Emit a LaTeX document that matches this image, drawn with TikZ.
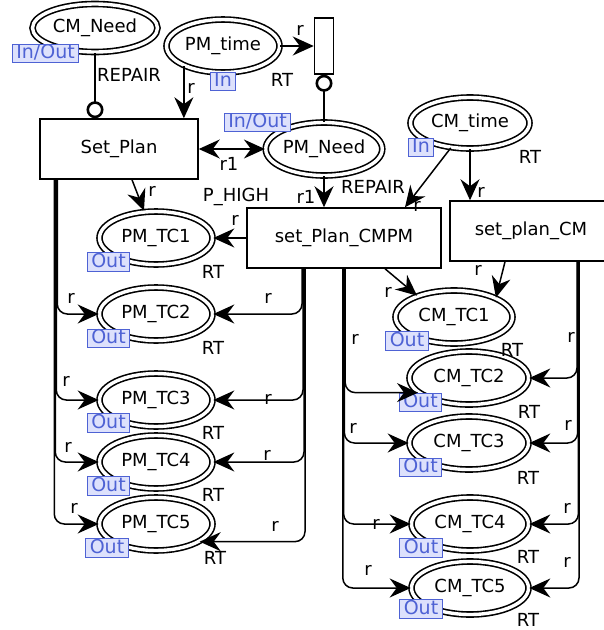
\documentclass[tikz,border=0pt]{standalone}
\usepackage{fontspec}
\setmainfont{DejaVu Sans}
\usetikzlibrary{arrows.meta,shapes.geometric}
\definecolor{tagblue}{RGB}{78,98,212}
\definecolor{tagfill}{RGB}{221,225,252}
\tikzset{
  place/.style={ellipse, draw, double, double distance=3.4pt, line width=1.6pt,
    inner sep=0pt, minimum width=113pt, minimum height=53pt},
  pntrans/.style={rectangle, draw, line width=1.5pt, inner sep=0pt},
  porttag/.style={draw=tagblue, fill=tagfill, text=tagblue, line width=1pt,
    font=\fontsize{19}{22}\selectfont,
    inner xsep=4pt, inner ysep=0pt, minimum height=18.5pt, text height=13.5pt, text depth=3pt},
  pntip/.tip={Stealth[length=21pt,width=19pt,inset=7pt]},
  pnarc/.style={line width=1.5pt, -pntip},
  inhib/.style={line width=1.5pt, -{Circle[open,length=17pt,width=17pt,line width=2.6pt]}},
  lbl/.style={inner sep=0pt}
}
\begin{document}
\begin{tikzpicture}[x=1pt, y=-1pt, font=\fontsize{18}{21}\selectfont]
    \useasboundingbox (0,0) rectangle (604,630);
    % places
    \node [place, minimum width=125pt, minimum height=48pt] (cmneed) at (95,28) {CM\_Need};
    \node [place] (pmtime) at (223,46) {PM\_time};
    \node [place] (pmneed) at (324,149) {PM\_Need};
    \node [place, minimum width=119pt, minimum height=51pt] (cmtime) at (470,123) {CM\_time};
    \node [place] (pmtc1) at (156,238) {PM\_TC1};
    \node [place] (pmtc2) at (156,314) {PM\_TC2};
    \node [place] (pmtc3) at (156,400) {PM\_TC3};
    \node [place] (pmtc4) at (156,462) {PM\_TC4};
    \node [place] (pmtc5) at (156,524) {PM\_TC5};
    \node [place, minimum width=117pt] (cmtc1) at (454,317) {CM\_TC1};
    \node [place, minimum width=119pt] (cmtc2) at (469,378) {CM\_TC2};
    \node [place, minimum width=119pt] (cmtc3) at (469,443) {CM\_TC3};
    \node [place, minimum width=117pt] (cmtc4) at (470,524) {CM\_TC4};
    \node [place, minimum width=117pt] (cmtc5) at (470,588) {CM\_TC5};
    % transitions
    \node [pntrans, minimum width=158pt, minimum height=60pt] (setplan) at (119,149) {Set\_Plan};
    \node [pntrans, minimum width=19pt, minimum height=56pt] (rtbox) at (324,46) {};
    \node [pntrans, minimum width=194pt, minimum height=60pt] (setcmpm) at (344,238) {set\_Plan\_CMPM};
    \node [pntrans, minimum width=162pt, minimum height=60pt] (setcm) at (531,231) {set\_plan\_CM};
    % port tags
    \node [porttag] (tagcmneed) at (45.5,53.5) {In/Out};
    \node [porttag] (tagpmtime) at (223,81.5) {In};
    \node [porttag] (tagpmneed) at (257.5,122.5) {In/Out};
    \node [porttag] (tagcmtime) at (421,147.5) {In};
    \node [porttag] (tagpm1) at (108.5,262) {Out};
    \node [porttag] (tagpm2) at (108.5,338.5) {Out};
    \node [porttag] (tagpm3) at (108.5,423) {Out};
    \node [porttag] (tagpm4) at (108.5,486) {Out};
    \node [porttag] (tagpm5) at (107,548) {Out};
    \node [porttag] (tagcm1) at (407,341) {Out};
    \node [porttag] (tagcm2) at (420.5,402.5) {Out};
    \node [porttag] (tagcm3) at (420.5,467.5) {Out};
    \node [porttag] (tagcm4) at (421,548) {Out};
    \node [porttag] (tagcm5) at (421,609) {Out};
    % colour sets and priority
    \node [lbl] (cscmneed) at (129,75) {REPAIR};
    \node [lbl] (cspmtime) at (282,80) {RT};
    \node [lbl] (cspmneed) at (373,187) {REPAIR};
    \node [lbl] (cscmtime) at (530,157) {RT};
    \node [lbl] (prio) at (236,197) {P\_HIGH};
    \node [lbl] (cspm1) at (213,272) {RT};
    \node [lbl] (cspm2) at (213,348) {RT};
    \node [lbl] (cspm3) at (213,433) {RT};
    \node [lbl] (cspm4) at (213,495) {RT};
    \node [lbl] (cspm5) at (215,558) {RT};
    \node [lbl] (cscm1) at (512,350) {RT};
    \node [lbl] (cscm2) at (529,412) {RT};
    \node [lbl] (cscm3) at (528,478) {RT};
    \node [lbl] (cscm4) at (528,557) {RT};
    \node [lbl] (cscm5) at (528,620) {RT};
    % arcs at the top
    \draw [inhib] (cmneed) -- (cmneed |- setplan.north);
    \draw [pnarc] (pmtime) -- (rtbox);
    \draw [inhib] (pmneed) -- (pmneed |- rtbox.south);
    \draw [pnarc] (pmtime.207) -- (pmtime.207 |- setplan.north);
    \draw [line width=1.5pt, pntip-pntip] (setplan.east |- pmneed) -- (pmneed);
    \draw [pnarc] (pmneed) -- (pmneed |- setcmpm.north);
    \draw [pnarc] (cmtime) -- ([xshift=61pt]setcmpm.north);
    \draw [pnarc] (cmtime) -- (cmtime |- setcm.north);
    \draw [pnarc] ([xshift=13pt]setplan.south) -- ([xshift=-12pt]pmtc1.north);
    \draw [pnarc] (setcmpm) -- (pmtc1);
    \draw [pnarc] ([xshift=41pt]setcmpm.south) -- (cmtc1.150);
    \draw [pnarc] ([xshift=-26pt]setcm.south) -- (cmtc1.north east);
    \node [lbl] (l1) at (191,88) {r};
    \node [lbl] (l2) at (300,30) {r};
    \node [lbl] (l3) at (229,164) {r1};
    \node [lbl] (l4) at (306,197) {r1};
    \node [lbl] (l5) at (417,206) {r};
    \node [lbl] (l6) at (481,192) {r};
    \node [lbl] (l7) at (152,191) {r};
    \node [lbl] (l8) at (235,220) {r};
    \node [lbl] (l9) at (388,292) {r};
    \node [lbl] (l10) at (478,270) {r};
    % Set_Plan to PM_TC2..5
    \draw [pnarc, rounded corners=10pt] ([xshift=18pt]setplan.south west) |- (pmtc2);
    \draw [pnarc, rounded corners=10pt] ([xshift=17pt]setplan.south west) |- (pmtc3);
    \draw [pnarc, rounded corners=10pt] ([xshift=16pt]setplan.south west) |- (pmtc4);
    \draw [pnarc, rounded corners=10pt] ([xshift=15pt]setplan.south west) |- (pmtc5);
    \node [lbl] (l11) at (71,298) {r};
    \node [lbl] (l12) at (66,381) {r};
    \node [lbl] (l13) at (68,447) {r};
    \node [lbl] (l14) at (74,508) {r};
    % set_Plan_CMPM to PM_TC2..5
    \draw [pnarc, rounded corners=10pt] ([xshift=-42pt]setcmpm.south) |- (pmtc2);
    \draw [pnarc, rounded corners=10pt] ([xshift=-41pt]setcmpm.south) |- (pmtc3);
    \draw [pnarc, rounded corners=10pt] ([xshift=-40pt]setcmpm.south) |- (pmtc4);
    \draw [pnarc, rounded corners=10pt] ([xshift=-39pt]setcmpm.south) |- (pmtc5.-22);
    \node [lbl] (l15) at (268,298) {r};
    \node [lbl] (l16) at (268,399) {r};
    \node [lbl] (l17) at (267,455) {r};
    \node [lbl] (l18) at (275,526) {r};
    % set_Plan_CMPM to CM_TC2..5
    \draw [pnarc, rounded corners=10pt] ([xshift=1.2pt]setcmpm.south) |- (cmtc2.196);
    \draw [pnarc, rounded corners=10pt] ([xshift=0.4pt]setcmpm.south) |- (cmtc3);
    \draw [pnarc, rounded corners=10pt] ([xshift=-0.4pt]setcmpm.south) |- (cmtc4);
    \draw [pnarc, rounded corners=10pt] ([xshift=-1.2pt]setcmpm.south) |- (cmtc5);
    \node [lbl] (l19) at (355,339) {r};
    \node [lbl] (l20) at (353,428) {r};
    \node [lbl] (l21) at (376,524) {r};
    \node [lbl] (l22) at (368,570) {r};
    % set_plan_CM to CM_TC2..5
    \draw [pnarc, rounded corners=10pt] ([xshift=46pt]setcm.south) |- (cmtc2);
    \draw [pnarc, rounded corners=10pt] ([xshift=46.7pt]setcm.south) |- (cmtc3);
    \draw [pnarc, rounded corners=10pt] ([xshift=47.4pt]setcm.south) |- (cmtc4);
    \draw [pnarc, rounded corners=10pt] ([xshift=48pt]setcm.south) |- (cmtc5);
    \node [lbl] (l23) at (571,337) {r};
    \node [lbl] (l24) at (568,425) {r};
    \node [lbl] (l25) at (567,508) {r};
    \node [lbl] (l26) at (567,562) {r};
\end{tikzpicture}
\end{document}
